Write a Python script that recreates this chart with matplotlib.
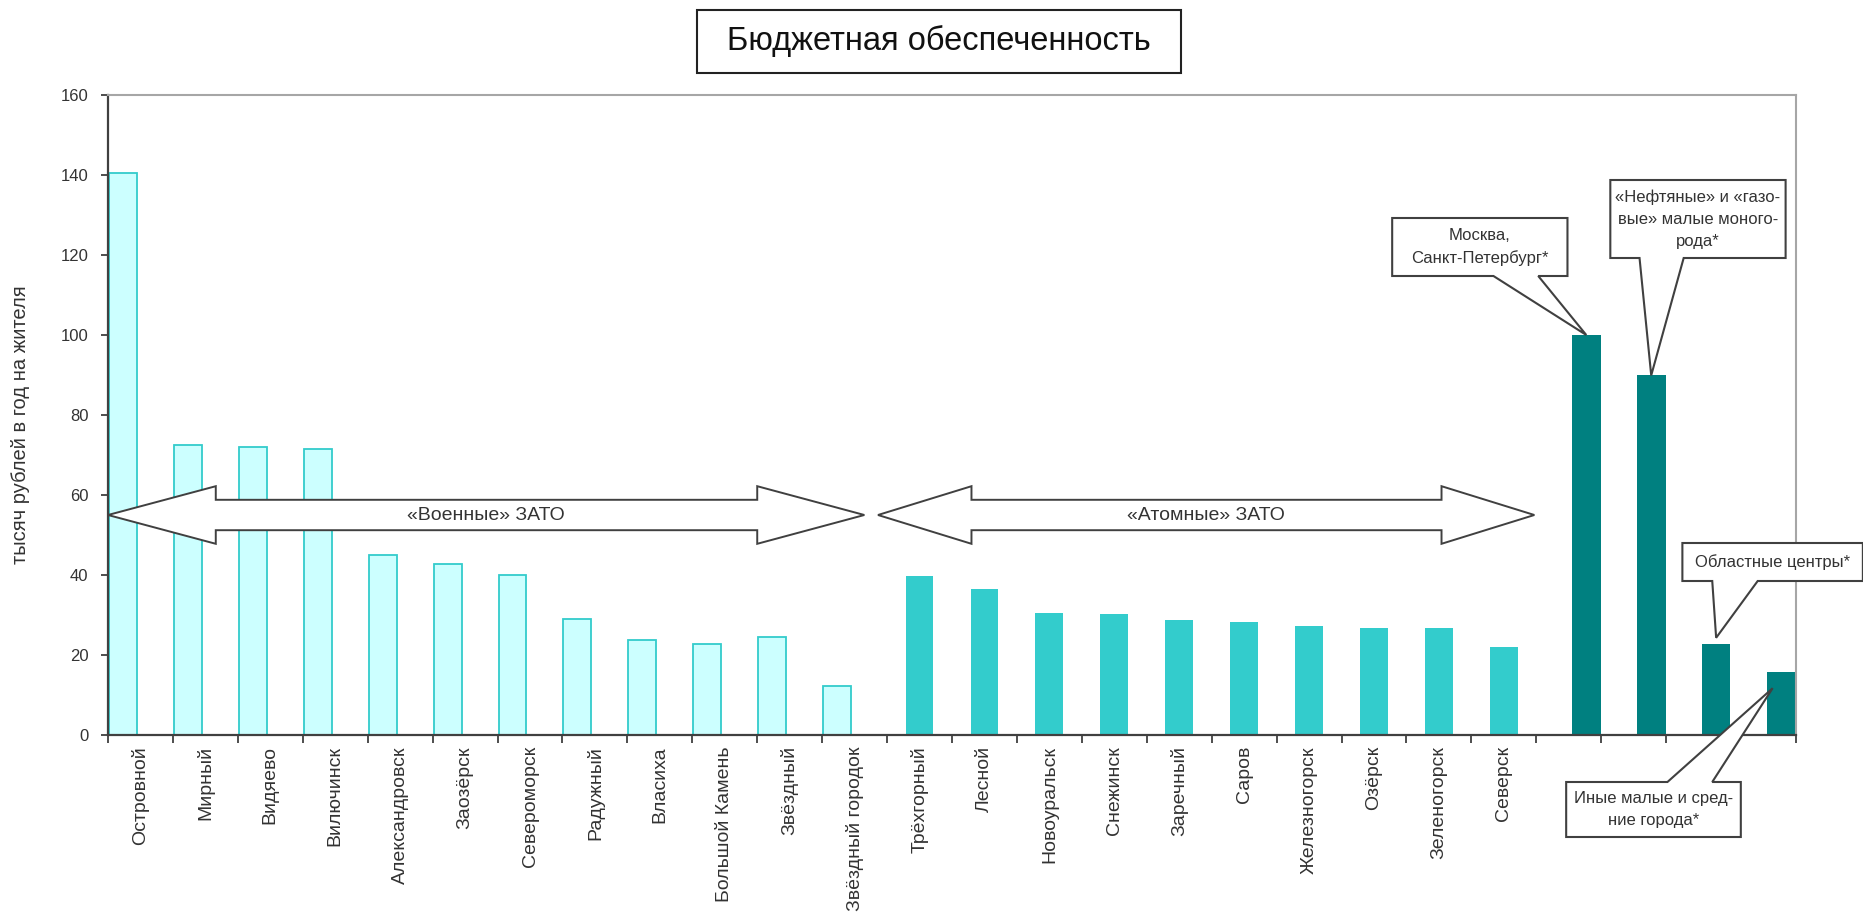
import numpy as np
import matplotlib
matplotlib.use("Agg")
import matplotlib.pyplot as plt
from matplotlib.patches import Polygon, Rectangle

plt.rcParams['font.family'] = ['Liberation Sans', 'DejaVu Sans']

# "военные" ЗАТО
mil_names = ['Островной', 'Мирный', 'Видяево', 'Вилючинск', 'Александровск', 'Заозёрск',
             'Североморск', 'Радужный', 'Власиха', 'Большой Камень', 'Звёздный', 'Звёздный городок']
mil_vals = [140.5, 72.6, 72.1, 71.4, 45.1, 42.7, 40.1, 29.1, 23.7, 22.8, 24.5, 12.2]

# "атомные" ЗАТО
atom_names = ['Трёхгорный', 'Лесной', 'Новоуральск', 'Снежинск', 'Заречный', 'Саров',
              'Железногорск', 'Озёрск', 'Зеленогорск', 'Северск']
atom_vals = [39.8, 36.5, 30.6, 30.3, 28.8, 28.2, 27.3, 26.8, 26.7, 22.1]

# прочие города (подписаны выносками)
other_vals = [100.0, 89.9, 22.8, 15.7]
other_notes = ['Москва,\nСанкт-Петербург*',
               '«Нефтяные» и «газо-\nвые» малые моного-\nрода*',
               'Областные центры*',
               'Иные малые и сред-\nние города*']

tick_labels = mil_names + atom_names + ['', '', '', '']

n_mil, n_atom, n_oth = len(mil_vals), len(atom_vals), len(other_vals)
x_mil = np.arange(n_mil)
x_atom = np.arange(n_atom) + n_mil
x_oth = np.arange(n_oth) + n_mil + n_atom
n_all = n_mil + n_atom + n_oth

TXT = '#333333'
EDGE = '#404040'

fig = plt.figure(figsize=(18.63, 9.23), dpi=100)
W, H = 1863.0, 923.0
ax = fig.add_axes([108 / W, 1 - 735 / H, (1796 - 108) / W, (735 - 95) / H])

ax.bar(x_mil - 0.27, mil_vals, width=0.43, color='#CCFFFF', edgecolor='#33CCCC', linewidth=1.3, zorder=2)
ax.bar(x_atom, atom_vals, width=0.43, color='#33CCCC', linewidth=0, zorder=2)
ax.bar(x_oth + 0.27, other_vals, width=0.44, color='#008080', linewidth=0, zorder=2)

ax.set_xlim(-0.5, n_all - 0.5)
ax.set_ylim(0, 160)
ax.set_yticks(np.arange(0, 161, 20))
ax.set_xticks(np.arange(-0.5, n_all, 1))
ax.set_xticklabels([])
ax.set_xticks(np.arange(n_all), minor=True)
ax.set_xticklabels(tick_labels, minor=True, rotation=90, va='top', ha='center',
                   fontsize=14, color=TXT)
ax.tick_params(axis='x', which='major', direction='out', length=6, width=1.3, color=EDGE)
ax.tick_params(axis='x', which='minor', length=0, pad=8)
ax.tick_params(axis='y', direction='out', length=5, width=1.3, color=EDGE,
               labelsize=12, labelcolor=TXT, pad=9)

for s in ['left', 'bottom']:
    ax.spines[s].set_color(EDGE)
    ax.spines[s].set_linewidth(1.6)
for s in ['top', 'right']:
    ax.spines[s].set_color('#A6A6A6')
    ax.spines[s].set_linewidth(1.5)

fig.text(21 / W, 1 - 425 / H, 'тысяч рублей в год на жителя', rotation=90,
         ha='center', va='center', fontsize=14.5, color=TXT)

# двусторонние стрелки групп ЗАТО
def block_arrow(xl, xhl, xhr, xr, yc, hh, sh, label):
    pts = [(xl, yc), (xhl, yc + hh), (xhl, yc + sh), (xhr, yc + sh), (xhr, yc + hh),
           (xr, yc), (xhr, yc - hh), (xhr, yc - sh), (xhl, yc - sh), (xhl, yc - hh)]
    ax.add_patch(Polygon(pts, closed=True, facecolor='white', edgecolor=EDGE,
                         linewidth=1.4, zorder=4, clip_on=False))
    ax.text((xl + xr) / 2, yc, label, ha='center', va='center', fontsize=14,
            color=TXT, zorder=5)

block_arrow(-0.5, 1.16, 9.5, 11.15, 55, 7.2, 3.8, '«Военные» ЗАТО')
block_arrow(11.36, 12.8, 20.04, 21.47, 55, 7.2, 3.8, '«Атомные» ЗАТО')

# выноски
def callout(x0, x1, y0, y1, b1, b2, side, tip, text):
    if side == 'bottom':
        pts = [(x0, y1), (x1, y1), (x1, y0), (b2, y0), tip, (b1, y0), (x0, y0)]
    else:
        pts = [(x0, y0), (x0, y1), (b1, y1), tip, (b2, y1), (x1, y1), (x1, y0)]
    ax.add_patch(Polygon(pts, closed=True, facecolor='white', edgecolor=EDGE,
                         linewidth=1.5, zorder=6, clip_on=False))
    ax.text((x0 + x1) / 2, (y0 + y1) / 2, text, ha='center', va='center',
            fontsize=12, color=TXT, zorder=7, linespacing=1.6, clip_on=False)

xb = x_oth + 0.27
callout(19.28, 21.98, 114.75, 129.25, 20.84, 21.53, 'bottom', (xb[0], other_vals[0]), other_notes[0])
callout(22.64, 25.34, 119.25, 138.75, 23.09, 23.77, 'bottom', (xb[1], other_vals[1]), other_notes[1])
callout(23.75, 26.53, 38.5, 48.0, 24.21, 24.91, 'bottom', (xb[2], other_vals[2] + 1.5), other_notes[2])
callout(21.96, 24.65, -25.5, -11.75, 23.52, 24.21, 'top', (xb[3] - 0.13, other_vals[3] - 4), other_notes[3])

# заголовок в рамке
fig.patches.append(Rectangle((697 / W, 1 - 73 / H), (1181 - 697) / W, 63 / H,
                             transform=fig.transFigure, facecolor='white',
                             edgecolor='#222222', linewidth=1.5))
fig.text(939 / W, 1 - 41 / H, 'Бюджетная обеспеченность', ha='center', va='center',
         fontsize=23.5, color='#111111')

fig.savefig('out.png', dpi=100)
